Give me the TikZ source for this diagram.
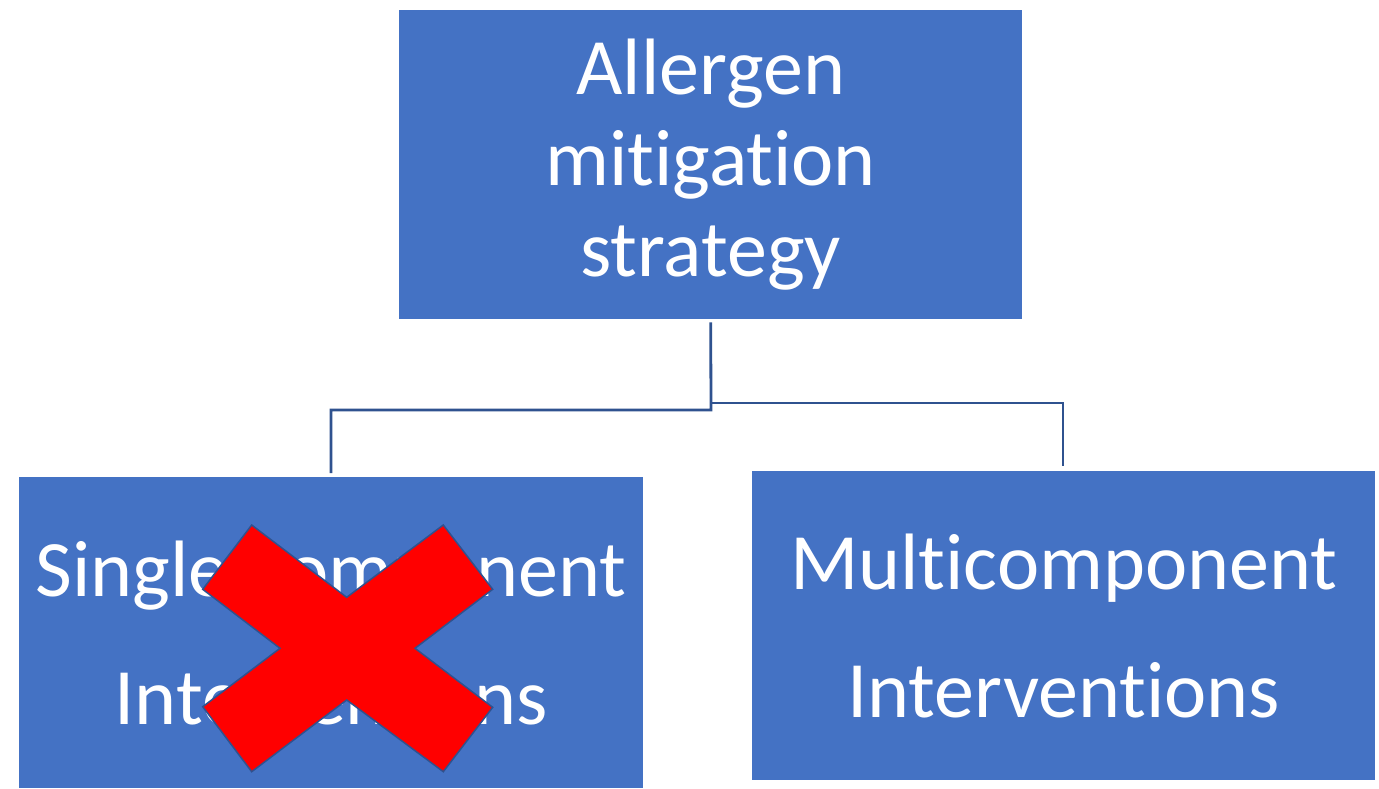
\documentclass[tikz,border=0pt]{standalone}
\usepackage{fontspec}
\setmainfont[RawFeature=-liga]{Carlito}
\definecolor{boxblue}{RGB}{68,114,196}
\definecolor{linkblue}{RGB}{47,82,143}
\definecolor{crossred}{RGB}{255,0,0}
\begin{document}
\begin{tikzpicture}[x=1pt,y=-1pt,
  box/.style={fill=boxblue, draw=none, inner sep=0pt, text=white, align=center, anchor=north west},
  link/.style={draw=linkblue, line width=2.8pt},
  cross/.style={fill=crossred, draw=linkblue, line width=1.5pt, line join=miter}]
\useasboundingbox (0,0) rectangle (1379,788);
\fill[white] (0,0) rectangle (1379,788);
\node[box, minimum width=623pt, minimum height=309pt, font=\fontsize{80}{91}\selectfont] (top) at (399,10) {Allergen\\mitigation\\strategy};
\node[box, minimum width=624pt, minimum height=311pt, font=\fontsize{80}{128}\selectfont] (left) at (19,477) {Single-component\\Interventions};
\node[box, minimum width=623pt, minimum height=309pt, font=\fontsize{80}{128}\selectfont] (right) at (752,471) {Multicomponent\\Interventions};
\coordinate (s) at ([yshift=-3pt]top.south);
\coordinate (jl) at (711,410);
\coordinate (jr) at (711,403);
\coordinate (el) at (331,473);
\coordinate (er) at (1063,466);
\draw[link] (s) -- (jl) -| (el);
\draw[link] (jr) -| (er);
\draw[cross] (251.7,525) -- (346.7,597.3) -- (443.3,525) -- (492.7,589.3) -- (415,648.3) -- (492.7,707.3) -- (443.3,771.7) -- (346.7,700) -- (251.7,771.7) -- (202.7,706.7) -- (280,648.3) -- (202.7,589.3) -- cycle;
\end{tikzpicture}
\end{document}
